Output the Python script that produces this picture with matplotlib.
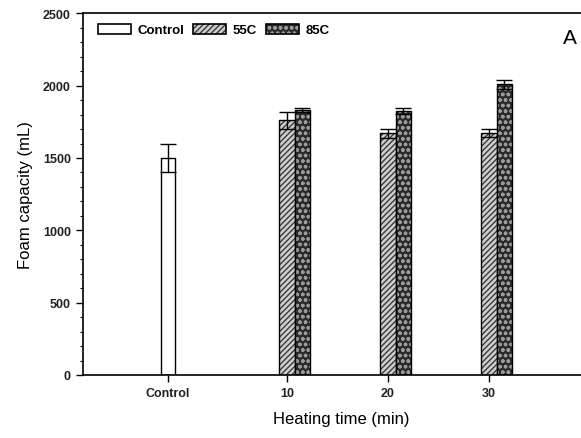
import matplotlib
matplotlib.use("Agg")
import matplotlib.pyplot as plt
from matplotlib.patches import Patch
from matplotlib.legend_handler import HandlerTuple
from matplotlib.ticker import MultipleLocator

plt.rcParams['font.family'] = ['Liberation Sans', 'DejaVu Sans']

categories = ["Control", "10", "20", "30"]
control_mean = [1500]
control_err = [95]
c55_mean = [1760, 1670, 1670]
c55_err = [60, 30, 28]
c85_mean = [1830, 1825, 2010]
c85_err = [15, 22, 30]

# layout
xpos = [-0.18, 1.0, 2.0, 3.0]
w = 0.15

fig = plt.figure(figsize=(5.81, 4.39), dpi=100)
W, H = 581, 439
left, right, top, bottom = 83.3, 600, 14.3, 376
ax = fig.add_axes([left / W, 1 - bottom / H, (right - left) / W, (bottom - top) / H])

c55_face, c55_hatch = '#cfcfcf', '#3a3a3a'
c85_face, c85_hatch = '#2a2a2a', '#9a9a9a'

# Control bar
ax.bar(xpos[0], control_mean, width=w * 0.9, color='white', edgecolor='black', linewidth=1.0)
ax.errorbar(xpos[0], control_mean, yerr=control_err, fmt='none', ecolor='black',
            elinewidth=1.0, capsize=6, capthick=1.0)

# 55C bars
x55 = xpos[1:]
ax.bar(x55, c55_mean, width=w, color=c55_face, edgecolor=c55_hatch, hatch='//////', linewidth=0)
ax.bar(x55, c55_mean, width=w, fill=False, edgecolor='black', linewidth=1.0)
ax.errorbar(x55, c55_mean, yerr=c55_err, fmt='none', ecolor='black',
            elinewidth=1.0, capsize=6, capthick=1.0)

# 85C bars
x85 = [x + w for x in xpos[1:]]
ax.bar(x85, c85_mean, width=w, color=c85_face, edgecolor=c85_hatch, hatch='ooo', linewidth=0)
ax.bar(x85, c85_mean, width=w, fill=False, edgecolor='black', linewidth=1.0)
ax.errorbar(x85, c85_mean, yerr=c85_err, fmt='none', ecolor='black',
            elinewidth=1.0, capsize=6, capthick=1.0)

ax.set_ylim(0, 2500)
xmin = -1.017
ax.set_xlim(xmin, xmin + (right - left) / 101.0)
ax.yaxis.set_major_locator(MultipleLocator(500))
ax.yaxis.set_minor_locator(MultipleLocator(100))
ax.set_xticks(xpos)
ax.set_xticklabels(categories)
ax.tick_params(axis='both', which='major', direction='out', length=5, width=1.0,
               labelsize=9, pad=4)
ax.tick_params(axis='y', which='minor', direction='out', length=2.5, width=0.8)
for lab in ax.get_xticklabels() + ax.get_yticklabels():
    lab.set_fontweight('bold')
    lab.set_color('#222222')
for s in ['left', 'bottom', 'top']:
    ax.spines[s].set_linewidth(1.2)
ax.spines['right'].set_visible(False)

ax.set_ylabel("Foam capacity (mL)", fontsize=12, labelpad=7)
ax.set_xlabel("Heating time (min)", fontsize=12, labelpad=8)

h_control = Patch(facecolor='white', edgecolor='black', linewidth=1.2)
h55a = Patch(facecolor=c55_face, edgecolor=c55_hatch, hatch='//////', linewidth=0)
h85a = Patch(facecolor=c85_face, edgecolor=c85_hatch, hatch='ooo', linewidth=0)
h_outline = Patch(fill=False, edgecolor='black', linewidth=1.2)
leg = ax.legend([h_control, (h55a, h_outline), (h85a, h_outline)], ["Control", "55C", "85C"],
                handler_map={tuple: HandlerTuple(ndivide=1, pad=0)},
                ncol=3, frameon=False, loc='upper left',
                bbox_to_anchor=((97.7 - left) / (right - left), (bottom - 25.0) / (bottom - top)),
                borderpad=0, borderaxespad=0,
                prop={'size': 9.5, 'weight': 'bold'},
                handlelength=2.5, handleheight=0.76, columnspacing=0.7, handletextpad=0.5)

fig.text(563 / W, 1 - 38 / H, "A", fontsize=15, ha='left', va='center')

fig.savefig("out.png", dpi=100)
